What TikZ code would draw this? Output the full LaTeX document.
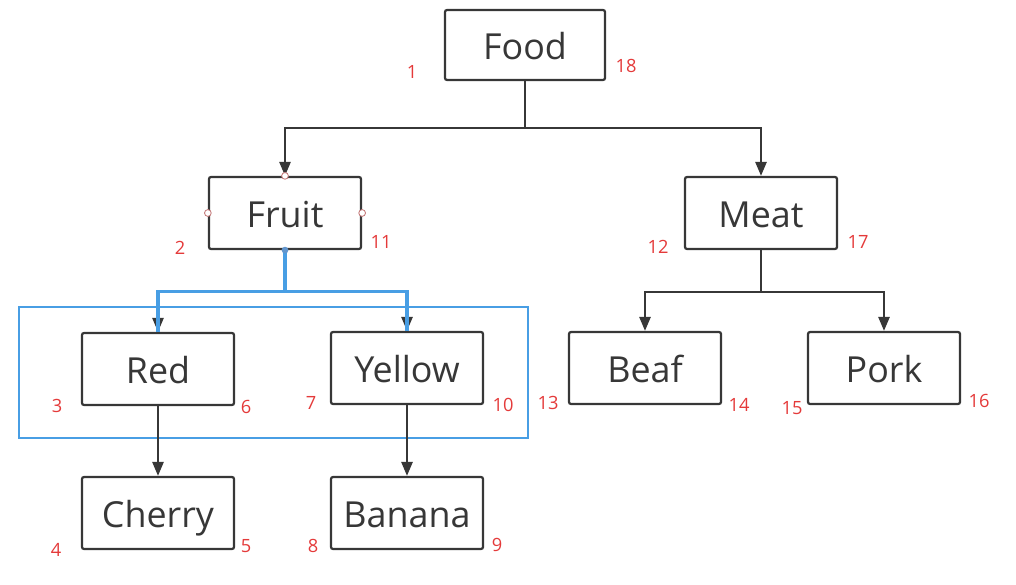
\documentclass[tikz,border=0pt]{standalone}
\usepackage{fontspec}
\setmainfont{Open Sans}
\usetikzlibrary{positioning, calc, arrows.meta}
\definecolor{lineGray}{RGB}{55,55,55}
\definecolor{numRed}{RGB}{228,58,58}
\definecolor{selBlue}{RGB}{72,158,228}
\definecolor{handlePink}{RGB}{196,120,120}

\begin{document}
\begin{tikzpicture}[x=0.025cm, y=-0.025cm,
          box/.style={draw=lineGray, line width=1.6pt, rounded corners=1.5pt,
                      minimum width=3.8cm, minimum height=1.8cm,
                      text height=23pt, text depth=3pt,
                      text=lineGray, font=\fontsize{25.5}{28}\selectfont},
          num/.style={text=numRed, font=\fontsize{13}{15}\selectfont},
          arr/.style={-{Triangle[length=10pt, width=8pt]}, line width=1.5pt, draw=lineGray},
          hl/.style={line width=2.3pt, draw=selBlue},
          handle/.style={draw=handlePink, fill=white, line width=0.6pt}
        ]
        \useasboundingbox (0,0) rectangle (1016,584);

        \node[box, minimum width=4cm, minimum height=1.75cm] (food) at (525,45) {Food};
        \node[box] (fruit)  at (285,213) {Fruit};
        \node[box] (meat)   at (761,213) {Meat};
        \node[box] (red)    at (158,369) {Red};
        \node[box] (yellow) at (407,368) {Yellow};
        \node[box] (beaf)   at (645,368) {Beaf};
        \node[box] (pork)   at (884,368) {Pork};
        \node[box] (cherry) at (158,513) {Cherry};
        \node[box] (banana) at (407,513) {Banana};

        % selection frame round the second level of Fruit
        \draw[selBlue, line width=1.5pt] (19,307) rectangle (528,438);

        \draw[arr] (food.south) -- ++(0,47) -| (fruit.north);
        \draw[arr] (food.south) -- ++(0,47) -| (meat.north);
        \draw[arr] (meat.south) -- ++(0,42) -| (beaf.north);
        \draw[arr] (meat.south) -- ++(0,42) -| (pork.north);
        \draw[arr] (red.south) -- (cherry.north);
        \draw[arr] (yellow.south) -- (banana.north);
        % highlighted edges drawn over their arrows
        \foreach \k in {red, yellow} {
          \draw[arr] (fruit.south) -- ++(0,41) -| (\k.north);
          \draw[hl]  (fruit.south) -- ++(0,41) -| (\k.north);
        }

        \foreach \a in {north, west, east}
          \draw[handle] (fruit.\a) circle[radius=2.4pt];
        \fill[selBlue!80!handlePink] (fruit.south) circle[radius=2.4pt];

        \foreach \t/\x/\y in {1/412/72, 18/626/66, 2/180/248, 11/381/242,
                              12/658/247, 17/858/242, 3/57/406, 6/246/407,
                              7/311/403, 10/503/405, 13/548/403, 14/739/405,
                              15/792/408, 16/979/401, 4/56/550, 5/246/546,
                              8/313/546, 9/497/545}
          \node[num] (n\t) at (\x,\y) {\t};
      \end{tikzpicture}
\end{document}
